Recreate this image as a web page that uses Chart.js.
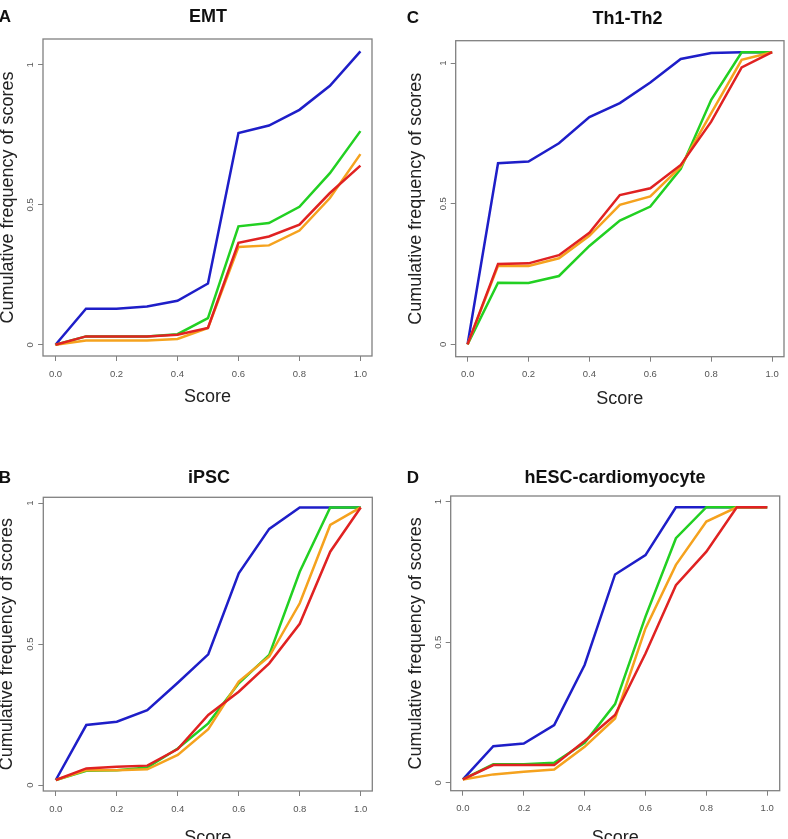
<!DOCTYPE html>
<html><head><meta charset="utf-8">
<script src="https://cdn.jsdelivr.net/npm/chart.js@4/dist/chart.umd.min.js"></script>
<style>
html,body{margin:0;padding:0;background:#fff;width:788px;height:839px;overflow:hidden;position:relative;font-family:"Liberation Sans",Arial,sans-serif;}
.pan{position:absolute;}
.txt{position:absolute;font-weight:bold;color:#111;line-height:1;white-space:nowrap;transform:translate(-50%,-50%);}
</style></head><body>
<script>
// ---- data ----
const scores = [0, 0.1, 0.2, 0.3, 0.4, 0.5, 0.6, 0.7, 0.8, 0.9, 1.0];
const xTickValues = [0, 0.2, 0.4, 0.6, 0.8, 1.0];
const xTickLabels = ['0.0', '0.2', '0.4', '0.6', '0.8', '1.0'];
const yTickValues = [0, 0.5, 1];
const yTickLabels = ['0', '0.5', '1'];
const seriesColors = ['#1e1ec8', '#22d022', '#f5a21e', '#e02222']; // blue, green, orange, red

const emtBlue   = [0, 0.129, 0.129, 0.137, 0.157, 0.219, 0.756, 0.783, 0.839, 0.925, 1.048];
const emtGreen  = [0, 0.030, 0.030, 0.030, 0.038, 0.095, 0.423, 0.435, 0.493, 0.613, 0.763];
const emtOrange = [0, 0.015, 0.015, 0.015, 0.021, 0.060, 0.349, 0.355, 0.408, 0.524, 0.681];
const emtRed    = [0, 0.030, 0.030, 0.030, 0.036, 0.060, 0.364, 0.387, 0.429, 0.542, 0.640];

const thBlue   = [0, 0.644, 0.650, 0.715, 0.808, 0.858, 0.931, 1.015, 1.036, 1.039, 1.039];
const thGreen  = [0, 0.219, 0.218, 0.243, 0.350, 0.440, 0.490, 0.624, 0.870, 1.039, 1.039];
const thOrange = [0, 0.279, 0.279, 0.306, 0.386, 0.496, 0.526, 0.632, 0.822, 1.012, 1.039];
const thRed    = [0, 0.286, 0.288, 0.317, 0.397, 0.531, 0.555, 0.638, 0.792, 0.985, 1.039];

const ipscBlue   = [0.018, 0.213, 0.225, 0.266, 0.363, 0.464, 0.751, 0.909, 0.985, 0.985, 0.985];
const ipscGreen  = [0.018, 0.051, 0.053, 0.062, 0.130, 0.219, 0.361, 0.462, 0.757, 0.985, 0.985];
const ipscOrange = [0.018, 0.053, 0.053, 0.056, 0.107, 0.198, 0.367, 0.456, 0.645, 0.923, 0.985];
const ipscRed    = [0.018, 0.059, 0.065, 0.069, 0.128, 0.249, 0.331, 0.432, 0.572, 0.828, 0.985];

const hescBlue   = [0.012, 0.130, 0.140, 0.205, 0.419, 0.741, 0.810, 0.980, 0.980, 0.980, 0.980];
const hescGreen  = [0.012, 0.066, 0.066, 0.071, 0.142, 0.280, 0.591, 0.870, 0.980, 0.980, 0.980];
const hescOrange = [0.012, 0.030, 0.039, 0.047, 0.128, 0.229, 0.549, 0.775, 0.929, 0.980, 0.980];
const hescRed    = [0.012, 0.063, 0.063, 0.063, 0.149, 0.241, 0.460, 0.703, 0.822, 0.980, 0.980];

const panelTitles = ['EMT', 'Th1-Th2', 'iPSC', 'hESC-cardiomyocyte'];
const panelLetters = ['A', 'C', 'B', 'D'];
const panelSeries = [
  [emtBlue, emtGreen, emtOrange, emtRed],
  [thBlue, thGreen, thOrange, thRed],
  [ipscBlue, ipscGreen, ipscOrange, ipscRed],
  [hescBlue, hescGreen, hescOrange, hescRed]
];

// ---- layout (positions / sizes) ----
const layouts = [
  {left:0,   top:0,   w:394, h:420, box:{l:43,   r:372,   t:39,   b:356},   xr:[-0.041,1.038], yr:[-0.040,1.092], titleX:208, titleY:16,  letX:5,   letY:16,  xtPad:12.2, ytPad:-2.5},
  {left:394, top:0,   w:394, h:420, box:{l:61.7, r:390,   t:40.7, b:356.7}, xr:[-0.039,1.039], yr:[-0.044,1.080], titleX:627.5, titleY:17.5, letX:413, letY:17, xtPad:10.2, ytPad:11.7},
  {left:0,   top:420, w:394, h:440, box:{l:43.3, r:372.3, t:77.3, b:371},   xr:[-0.041,1.038], yr:[-0.021,1.021], titleX:209, titleY:477, letX:5,   letY:477, xtPad:11.2, ytPad:-3.3},
  {left:394, top:420, w:394, h:440, box:{l:56.7, r:385.7, t:76,   b:370.7}, xr:[-0.040,1.041], yr:[-0.028,1.020], titleX:615, titleY:477, letX:413, letY:477, xtPad:11.2, ytPad:11}
];

const FONT = '"Liberation Sans", Arial, sans-serif';

const boxPlugin = {
  id: 'boxAndYLabels',
  afterDraw(chart) {
    const ctx = chart.ctx, a = chart.chartArea, ys = chart.scales.y;
    ctx.save();
    ctx.strokeStyle = '#808080';
    ctx.lineWidth = 1.3;
    ctx.strokeRect(a.left, a.top, a.right - a.left, a.bottom - a.top);
    ctx.font = '9.5px ' + FONT;
    ctx.fillStyle = '#555';
    ctx.textAlign = 'center';
    ctx.textBaseline = 'middle';
    yTickValues.forEach((v, i) => {
      const py = ys.getPixelForValue(v);
      ctx.save();
      ctx.translate(a.left - 12.5, py);
      ctx.rotate(-Math.PI / 2);
      ctx.fillText(yTickLabels[i], 0, 0);
      ctx.restore();
    });
    ctx.restore();
  }
};

layouts.forEach((L, idx) => {
  const cv = document.createElement('canvas');
  cv.className = 'pan';
  cv.style.left = L.left + 'px';
  cv.style.top = L.top + 'px';
  cv.style.width = L.w + 'px';
  cv.style.height = L.h + 'px';
  cv.width = L.w; cv.height = L.h;
  document.body.appendChild(cv);

  const t = document.createElement('div');
  t.className = 'txt';
  t.style.fontSize = '18px';
  t.style.left = L.titleX + 'px';
  t.style.top = L.titleY + 'px';
  t.textContent = panelTitles[idx];
  document.body.appendChild(t);

  const l = document.createElement('div');
  l.className = 'txt';
  l.style.fontSize = '17px';
  l.style.left = L.letX + 'px';
  l.style.top = L.letY + 'px';
  l.textContent = panelLetters[idx];
  document.body.appendChild(l);

  const series = panelSeries[idx];
  const datasets = [];
  // red on top: Chart.js draws index 0 last
  for (let s = series.length - 1; s >= 0; s--) {
    datasets.push({
      data: scores.map((x, i) => ({x: x, y: series[s][i]})),
      borderColor: seriesColors[s],
      borderWidth: 2.5,
      pointRadius: 0,
      tension: 0,
      fill: false
    });
  }

  new Chart(cv, {
    type: 'line',
    data: { datasets: datasets },
    plugins: [boxPlugin],
    options: {
      responsive: false,
      animation: false,
      events: [],
      layout: { padding: { left: 0, top: L.box.t, right: L.w - L.box.r, bottom: 0 } },
      plugins: { legend: { display: false }, tooltip: { enabled: false }, title: { display: false } },
      scales: {
        x: {
          type: 'linear',
          min: L.xr[0], max: L.xr[1],
          afterBuildTicks: (s) => { s.ticks = xTickValues.map(v => ({ value: v })); },
          afterFit: (s) => { s.height = L.h - L.box.b; },
          ticks: {
            autoSkip: false, maxRotation: 0, minRotation: 0,
            padding: 7.3,
            color: '#555',
            font: { family: FONT, size: 9.5 },
            callback: (v) => { const k = xTickValues.indexOf(v); return k >= 0 ? xTickLabels[k] : ''; }
          },
          grid: { display: true, drawOnChartArea: false, drawTicks: true, tickLength: 5, color: '#808080', lineWidth: 1 },
          border: { display: false },
          title: { display: true, text: 'Score', color: '#222', font: { family: FONT, size: 18 }, padding: { top: 0, bottom: L.xtPad } }
        },
        y: {
          type: 'linear',
          min: L.yr[0], max: L.yr[1],
          afterBuildTicks: (s) => { s.ticks = yTickValues.map(v => ({ value: v })); },
          afterFit: (s) => { s.width = L.box.l; },
          ticks: { display: false },
          grid: { display: true, drawOnChartArea: false, drawTicks: true, tickLength: 5, color: '#808080', lineWidth: 1 },
          border: { display: false },
          title: { display: true, text: 'Cumulative frequency of scores', color: '#222', font: { family: FONT, size: 18 }, padding: { top: L.ytPad, bottom: 0 } }
        }
      }
    }
  });
});
</script>
</body></html>
